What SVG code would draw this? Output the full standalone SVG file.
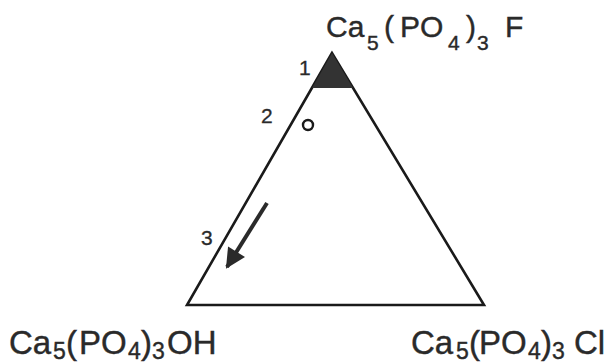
<svg xmlns="http://www.w3.org/2000/svg" width="606" height="364" viewBox="0 0 606 364">
<defs>
<style>
.lbl{font-family:"Liberation Sans","DejaVu Sans",sans-serif;fill:#2a2a2a;stroke:#2a2a2a;stroke-width:0.4}
.big{font-size:33px}
.top{font-size:30px}
.sub{font-size:23px}
.subt{font-size:21px}
.num{font-family:"Liberation Sans","DejaVu Sans",sans-serif;font-size:21px;fill:#2a2a2a;stroke:#2a2a2a;stroke-width:0.3}
.edge{fill:none;stroke:#1a1a1a;stroke-width:2.6;stroke-linejoin:miter}
</style>
<marker id="ah" viewBox="0 0 10 10" refX="9" refY="5" markerWidth="6" markerHeight="5" markerUnits="strokeWidth" orient="auto">
<path d="M0,0 L10,5 L0,10 Z" fill="#2a2a2a"/>
</marker>
</defs>
<g id="triangle">
<polygon class="edge" points="332,53 187,305 484,305"/>
<polygon points="332,53 312,88 353,88" fill="#333"/>
</g>
<g id="node-F">
<text class="lbl top"><tspan x="326" y="37">Ca</tspan><tspan class="subt" x="367" y="50">5</tspan><tspan x="384" y="37">(</tspan><tspan x="400" y="37">P</tspan><tspan x="420" y="37">O</tspan><tspan class="subt" x="448" y="50">4</tspan><tspan x="466" y="37">)</tspan><tspan class="subt" x="477" y="50">3</tspan><tspan x="505" y="37">F</tspan></text>
</g>
<g id="node-OH">
<text class="lbl big"><tspan x="9" y="354">Ca</tspan><tspan class="sub" x="53" y="359">5</tspan><tspan x="66" y="354">(</tspan><tspan x="79" y="354">P</tspan><tspan x="101" y="354">O</tspan><tspan class="sub" x="128" y="359">4</tspan><tspan x="141" y="354">)</tspan><tspan class="sub" x="152" y="359">3</tspan><tspan x="167" y="354">OH</tspan></text>
</g>
<g id="node-Cl">
<text class="lbl big"><tspan x="411" y="354">Ca</tspan><tspan class="sub" x="456" y="359">5</tspan><tspan x="469" y="354">(</tspan><tspan x="479" y="354">P</tspan><tspan x="501" y="354">O</tspan><tspan class="sub" x="528" y="359">4</tspan><tspan x="541" y="354">)</tspan><tspan class="sub" x="552" y="359">3</tspan><tspan x="574" y="354">Cl</tspan></text>
</g>
<g id="points">
<text class="num" x="299" y="75">1</text>
<text class="num" x="261" y="123">2</text>
<circle cx="308" cy="125" r="5" fill="none" stroke="#1a1a1a" stroke-width="2.4"/>
<text class="num" x="201" y="245">3</text>
</g>
<g id="connectors">
<path d="M267,203 L227,267" stroke="#2a2a2a" stroke-width="4" fill="none" marker-end="url(#ah)"/>
</g>
</svg>
